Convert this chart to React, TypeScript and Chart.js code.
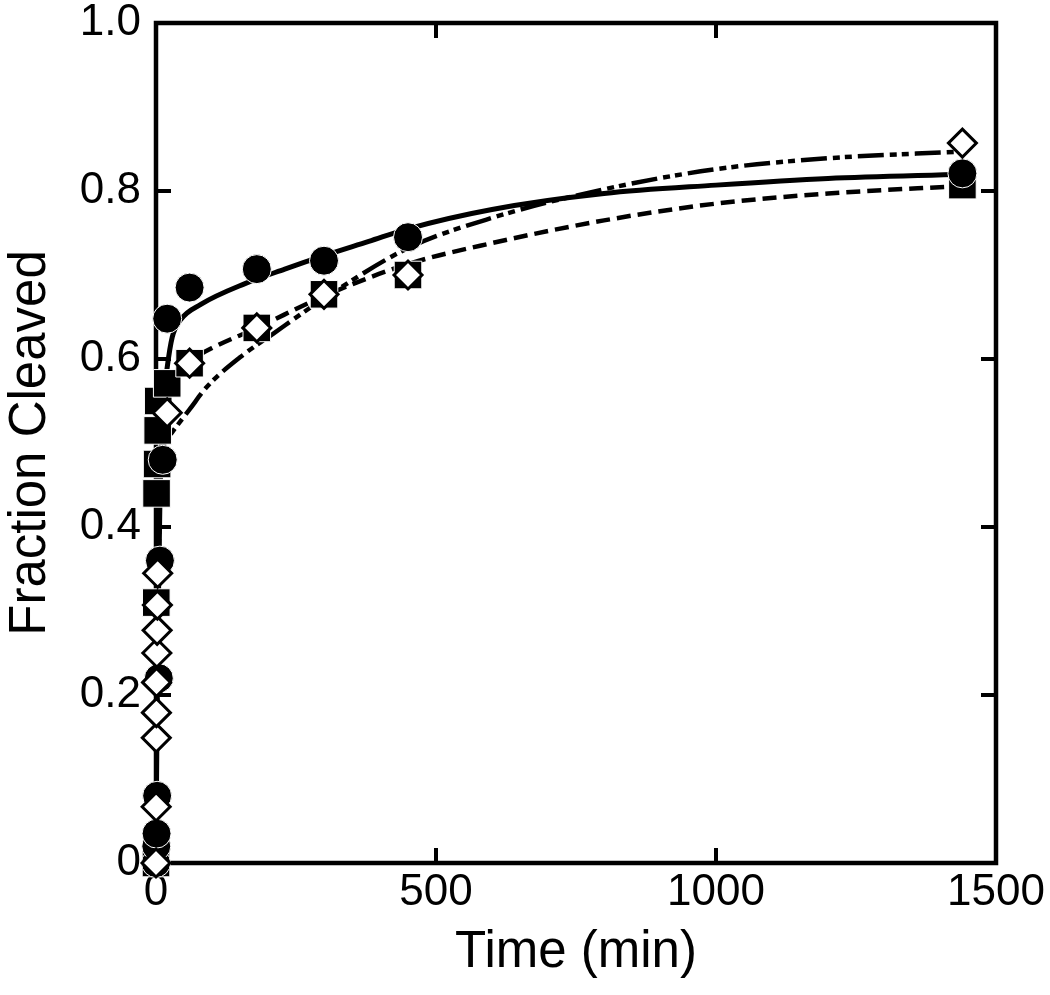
import React, { useEffect, useRef } from 'react';
import { Chart, registerables } from 'chart.js';

Chart.register(...registerables);

// ---- data (time in min, fraction cleaved) ----
const circleTime = [0, 0.5, 1, 2, 5, 7, 12, 20, 60, 180, 300, 450, 1440];
const circleFrac = [0.0, 0.02, 0.035, 0.08, 0.22, 0.36, 0.48, 0.648, 0.685, 0.707, 0.717, 0.745, 0.821];

const squareTime = [0, 0.5, 1, 2, 3, 4, 20, 60, 180, 300, 450, 1440];
const squareFrac = [0.0, 0.31, 0.44, 0.475, 0.515, 0.55, 0.571, 0.595, 0.637, 0.677, 0.7, 0.807];

const diamondTime = [0, 0.25, 0.5, 0.75, 1, 1.5, 2, 2.5, 3, 20, 60, 180, 300, 450, 1440];
const diamondFrac = [0.0, 0.067, 0.149, 0.179, 0.215, 0.25, 0.277, 0.307, 0.345, 0.536, 0.595, 0.637, 0.677, 0.7, 0.857];

// fitted curves
const solidFitTime = [0, 1, 2, 4, 7, 10, 15, 20, 29, 43, 80, 160, 230, 300, 380, 450, 600, 800, 1000, 1200, 1440];
const solidFitFrac = [0, 0.1, 0.18, 0.3, 0.43, 0.5, 0.56, 0.59, 0.626, 0.646, 0.665, 0.69, 0.707, 0.723, 0.74, 0.755, 0.778, 0.797, 0.807, 0.815, 0.82];

const dashFitTime = [0, 1, 2, 4, 7, 10, 15, 20, 40, 60, 100, 180, 300, 450, 600, 800, 1000, 1200, 1440];
const dashFitFrac = [0, 0.15, 0.28, 0.42, 0.5, 0.535, 0.56, 0.572, 0.588, 0.598, 0.613, 0.637, 0.675, 0.713, 0.738, 0.765, 0.785, 0.797, 0.806];

const dotFitTime = [0, 1, 2, 4, 7, 10, 20, 29, 60, 91, 150, 209, 300, 450, 600, 800, 1000, 1200, 1440];
const dotFitFrac = [0, 0.1, 0.2, 0.32, 0.43, 0.48, 0.505, 0.513, 0.54, 0.567, 0.602, 0.63, 0.672, 0.732, 0.768, 0.802, 0.826, 0.839, 0.847];

const xTickValues = [0, 500, 1000, 1500];
const yTickValues = [0, 0.2, 0.4, 0.6, 0.8, 1.0];
const yTickLabels = ['0', '0.2', '0.4', '0.6', '0.8', '1.0'];

const xTitle = 'Time (min)';
const yTitle = 'Fraction Cleaved';

const FONT = "'Liberation Sans', Arial, Helvetica, sans-serif";

const pts = (t: number[], v: number[]) => t.map((x, i) => ({ x, y: v[i] }));

const frameTicks = {
  id: 'frameTicks',
  beforeDatasetsDraw(chart: any) {
    const { ctx, chartArea: a, scales } = chart;
    const xs = scales.x;
    const ys = scales.y;
    const len = 15;
    ctx.save();
    ctx.strokeStyle = '#000';
    ctx.lineWidth = 4.5;
    ctx.lineJoin = 'miter';
    ctx.strokeRect(a.left, a.top, a.right - a.left, a.bottom - a.top);
    ctx.lineWidth = 4;
    ctx.beginPath();
    xs.ticks.forEach((t: any) => {
      const px = xs.getPixelForValue(t.value);
      if (px <= a.left + 2 || px >= a.right - 2) return;
      ctx.moveTo(px, a.bottom);
      ctx.lineTo(px, a.bottom - len);
      ctx.moveTo(px, a.top);
      ctx.lineTo(px, a.top + len);
    });
    ys.ticks.forEach((t: any) => {
      const py = ys.getPixelForValue(t.value);
      if (py <= a.top + 2 || py >= a.bottom - 2) return;
      ctx.moveTo(a.left, py);
      ctx.lineTo(a.left + len, py);
      ctx.moveTo(a.right, py);
      ctx.lineTo(a.right - len, py);
    });
    ctx.stroke();
    ctx.restore();
  },
};

export default function App() {
  const ref = useRef<HTMLCanvasElement | null>(null);

  useEffect(() => {
    if (!ref.current) return;
    const lineBase = {
      showLine: true,
      pointRadius: 0,
      borderColor: '#000',
      backgroundColor: '#000',
      borderWidth: 5,
      fill: false,
      cubicInterpolationMode: 'monotone' as const,
      clip: false as any,
    };
    const chart = new Chart(ref.current, {
      type: 'scatter',
      data: {
        datasets: [
          {
            label: 'diamonds',
            data: pts(diamondTime, diamondFrac),
            pointStyle: 'rectRot',
            pointRadius: 14,
            backgroundColor: '#fff',
            borderColor: '#000',
            borderWidth: 3,
            order: 0,
            clip: false as any,
          },
          {
            label: 'circles',
            data: pts(circleTime, circleFrac),
            pointStyle: 'circle',
            pointRadius: 14.5,
            backgroundColor: '#000',
            borderColor: '#fff',
            borderWidth: 1,
            order: 1,
            clip: false as any,
          },
          {
            label: 'squares',
            data: pts(squareTime, squareFrac),
            pointStyle: 'rect',
            pointRadius: 19.5,
            backgroundColor: '#000',
            borderColor: '#fff',
            borderWidth: 1,
            order: 2,
            clip: false as any,
          },
          { ...lineBase, label: 'fit circles', data: pts(solidFitTime, solidFitFrac), order: 3 },
          { ...lineBase, label: 'fit squares', data: pts(dashFitTime, dashFitFrac), borderDash: [14, 7], borderWidth: 4.5, order: 4 },
          { ...lineBase, label: 'fit diamonds', data: pts(dotFitTime, dotFitFrac), borderDash: [26, 6, 7, 5, 7, 6], borderWidth: 4.5, order: 5 },
        ] as any,
      },
      options: {
        animation: false,
        responsive: false,
        maintainAspectRatio: false,
        layout: { padding: { top: 23, right: 54, bottom: 0, left: 0 } },
        plugins: { legend: { display: false }, tooltip: { enabled: false } },
        scales: {
          x: {
            type: 'linear',
            min: 0,
            max: 1500,
            grid: { display: false },
            border: { display: false },
            afterFit: (s: any) => {
              s.height = 132;
              s.paddingLeft = 0;
              s.paddingRight = 0;
            },
            afterBuildTicks: (s: any) => {
              s.ticks = xTickValues.map((v) => ({ value: v }));
            },
            ticks: {
              color: '#000',
              padding: 0,
              maxRotation: 0,
              font: { family: FONT, size: 44, lineHeight: 1.0 },
              callback: (v: any) => String(v),
            },
            title: {
              display: true,
              text: xTitle,
              color: '#000',
              font: { family: FONT, size: 51, lineHeight: 1.2 },
              padding: { top: 0, bottom: 11 },
            },
          },
          y: {
            type: 'linear',
            min: 0,
            max: 1,
            grid: { display: false },
            border: { display: false },
            afterFit: (s: any) => {
              s.width = 156;
              s.paddingTop = 0;
              s.paddingBottom = 0;
            },
            afterBuildTicks: (s: any) => {
              s.ticks = yTickValues.map((v) => ({ value: v }));
            },
            ticks: {
              color: '#000',
              padding: 7,
              font: { family: FONT, size: 44, lineHeight: 1.0 },
              callback: (v: any) => {
                const i = yTickValues.findIndex((t) => Math.abs(t - Number(v)) < 1e-9);
                return i >= 0 ? yTickLabels[i] : '';
              },
            },
            title: {
              display: true,
              text: yTitle,
              color: '#000',
              font: { family: FONT, size: 51, lineHeight: 1.2 },
              padding: { top: 0, bottom: 0 },
            },
          },
        },
      },
      plugins: [frameTicks],
    });
    return () => chart.destroy();
  }, []);

  return (
    <div style={{ position: 'fixed', left: 0, top: 0, width: 1050, height: 995, background: '#fff' }}>
      <canvas ref={ref} width={1050} height={995} style={{ display: 'block', width: 1050, height: 995 }} />
    </div>
  );
}
